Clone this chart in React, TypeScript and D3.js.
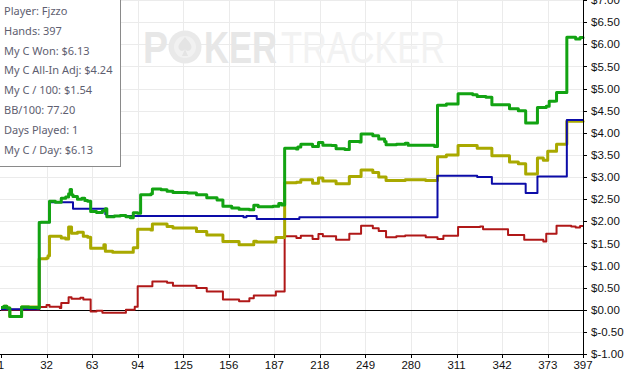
import React from "react";
import * as d3 from "d3";

const W = 630;
const H = 378;

const xTicks = [1, 32, 63, 94, 125, 156, 187, 218, 249, 280, 311, 342, 373, 397];
const yTicks = [-1, -0.5, 0, 0.5, 1, 1.5, 2, 2.5, 3, 3.5, 4, 4.5, 5, 5.5, 6, 6.5, 7];

const infoLines = [
  "Player: Fjzzo",
  "Hands: 397",
  "My C Won: $6.13",
  "My C All-In Adj: $4.24",
  "My C / 100: $1.54",
  "BB/100: 77.20",
  "Days Played: 1",
  "My C / Day: $6.13",
];

// Red series
const redHands = [1, 27, 32, 34, 41, 42, 47, 49, 55, 57, 62, 66, 70, 86, 92, 94, 104, 114, 118, 134, 141, 152, 163, 170, 173, 188, 194, 202, 205, 213, 217, 220, 229, 238, 246, 254, 258, 263, 270, 276, 290, 298, 302, 312, 327, 329, 346, 357, 370, 372, 379, 389, 392, 395, 397];
const redValues = [0.0, 0.06, 0.11, 0.07, 0.04, 0.15, 0.28, 0.25, 0.27, 0.23, -0.04, -0.02, -0.07, 0.0, 0.07, 0.53, 0.64, 0.61, 0.54, 0.49, 0.41, 0.23, 0.19, 0.26, 0.32, 0.41, 1.66, 1.62, 1.67, 1.6, 1.71, 1.66, 1.58, 1.72, 1.9, 1.84, 1.78, 1.64, 1.66, 1.68, 1.64, 1.6, 1.67, 1.87, 1.88, 1.82, 1.69, 1.58, 1.54, 1.72, 1.9, 1.88, 1.86, 1.89, 1.89];

// Olive (all-in adjusted) series
const yellowHands = [1, 3, 5, 7, 15, 26, 27, 32, 33, 34, 42, 45, 47, 49, 53, 57, 60, 62, 71, 72, 77, 86, 91, 94, 103, 104, 114, 118, 134, 141, 152, 163, 173, 175, 188, 194, 202, 205, 213, 217, 220, 229, 238, 246, 254, 258, 263, 270, 276, 290, 298, 304, 312, 325, 335, 347, 353, 358, 366, 370, 373, 379, 386, 397];
const yellowValues = [0.05, 0.08, 0.04, -0.15, 0.06, 0.04, 1.15, 1.17, 1.22, 1.66, 1.62, 1.6, 1.87, 1.73, 1.75, 1.66, 1.64, 1.39, 1.47, 1.32, 1.3, 1.3, 1.4, 1.82, 1.8, 1.94, 1.88, 1.85, 1.77, 1.69, 1.54, 1.47, 1.55, 1.53, 1.63, 2.87, 2.88, 2.94, 2.86, 2.98, 2.91, 2.85, 3.01, 3.16, 3.1, 3.0, 2.92, 2.92, 2.94, 2.92, 3.46, 3.5, 3.71, 3.65, 3.48, 3.34, 3.3, 3.07, 3.43, 3.38, 3.58, 3.74, 4.26, 4.24];

// Blue series
const blueHands = [1, 27, 34, 50, 72, 73, 166, 168, 175, 204, 298, 325, 335, 358, 366, 386, 397];
const blueValues = [0.01, 1.98, 2.43, 2.28, 2.16, 2.12, 2.09, 2.12, 2.05, 2.09, 3.03, 3.0, 2.85, 2.64, 3.01, 4.29, 4.27];

// Green (won) series
const greenHands = [1, 3, 5, 7, 15, 20, 26, 27, 28, 34, 38, 42, 45, 47, 48, 49, 50, 53, 56, 58, 60, 62, 66, 70, 72, 73, 78, 82, 86, 89, 91, 94, 96, 103, 104, 110, 114, 118, 128, 134, 141, 148, 152, 158, 163, 170, 173, 176, 186, 190, 192, 194, 202, 203, 205, 213, 217, 220, 226, 229, 235, 238, 245, 246, 254, 258, 262, 263, 270, 276, 278, 290, 296, 298, 304, 312, 322, 325, 331, 335, 347, 353, 358, 366, 372, 374, 378, 379, 386, 392, 395, 397];
const greenValues = [0.05, 0.08, 0.04, -0.15, 0.06, 0.05, 0.04, 1.97, 1.98, 2.45, 2.43, 2.52, 2.55, 2.62, 2.72, 2.6, 2.56, 2.5, 2.52, 2.47, 2.45, 2.22, 2.2, 2.24, 2.28, 2.1, 2.12, 2.13, 2.1, 2.08, 2.19, 2.18, 2.6, 2.62, 2.73, 2.71, 2.68, 2.65, 2.64, 2.6, 2.53, 2.48, 2.34, 2.3, 2.27, 2.26, 2.36, 2.33, 2.34, 2.4, 2.37, 3.65, 3.63, 3.68, 3.74, 3.69, 3.78, 3.72, 3.71, 3.64, 3.62, 3.8, 3.79, 3.97, 3.93, 3.86, 3.8, 3.73, 3.74, 3.76, 3.72, 3.72, 3.69, 4.62, 4.65, 4.88, 4.86, 4.82, 4.8, 4.63, 4.54, 4.5, 4.22, 4.57, 4.6, 4.71, 4.72, 4.91, 6.16, 6.12, 6.15, 6.13];

const series = [
  { hands: redHands, values: redValues, color: "#b01818", width: 2 },
  { hands: yellowHands, values: yellowValues, color: "#a9a900", width: 3 },
  { hands: blueHands, values: blueValues, color: "#0c0ca8", width: 2 },
  { hands: greenHands, values: greenValues, color: "#12a312", width: 3 },
];

export default function App() {
  const x = d3.scaleLinear().domain([1, 397]).range([1, 583]);
  const y = d3.scaleLinear().domain([-1, 7]).range([354, 0]);
  const line = d3
    .line<[number, number]>()
    .x((d) => x(d[0]))
    .y((d) => y(d[1]))
    .curve(d3.curveStepAfter);
  const axisFont = "'Liberation Sans', Arial, sans-serif";
  const fmt = (v: number) => "$" + v.toFixed(2);

  return (
    <svg
      width={W}
      height={H}
      style={{ position: "fixed", left: 0, top: 0, background: "#fff" }}
    >
      <rect x={0} y={0} width={W} height={H} fill="#fff" />
      {/* grid */}
      {yTicks.map((t) => (
        <line key={"gy" + t} x1={0} x2={x(397)} y1={Math.round(y(t)) + 0.5} y2={Math.round(y(t)) + 0.5} stroke="#ebebeb" strokeWidth={1} />
      ))}
      {xTicks.slice(1, -1).map((t) => (
        <line key={"gx" + t} x1={Math.round(x(t)) + 0.5} x2={Math.round(x(t)) + 0.5} y1={0} y2={y(-1)} stroke="#ebebeb" strokeWidth={1} />
      ))}
      {/* watermark */}
      <g fontFamily="'Liberation Sans', Arial, sans-serif" fontSize={44}>
        <text x={143} y={63} fill="#e7e7e7" fontWeight="bold" textLength={25} lengthAdjust="spacingAndGlyphs">P</text>
        <circle cx={185} cy={47} r={16.5} fill="#e9e9e9" />
        <circle cx={185} cy={47} r={11} fill="#f1f1f1" />
        <path d="M185,37 C181,42 177,45 179,49 C181,52 184,51 185,49 C186,51 189,52 191,49 C193,45 189,42 185,37 Z M185,49 L182,56 L188,56 Z" fill="#e4e4e4" />
        <text x={204} y={63} fill="#e7e7e7" fontWeight="bold" textLength={73} lengthAdjust="spacingAndGlyphs">KER</text>
        <text x={281} y={63} fill="#f2f2f2" textLength={164} lengthAdjust="spacingAndGlyphs">TRACKER</text>
      </g>
      {/* zero line */}
      <line x1={0} x2={x(397)} y1={Math.round(y(0)) + 0.5} y2={Math.round(y(0)) + 0.5} stroke="#000" strokeWidth={1} />
      {/* series */}
      {series.map((s, i) => (
        <path
          key={i}
          d={line(s.hands.map((h, j) => [h, s.values[j]] as [number, number])) || ""}
          fill="none"
          stroke={s.color}
          strokeWidth={s.width}
          strokeLinejoin="round"
        />
      ))}
      {/* right axis */}
      <line x1={Math.round(x(397)) + 0.5} x2={Math.round(x(397)) + 0.5} y1={0} y2={y(-1) + 4} stroke="#000" />
      {yTicks.map((t) => (
        <g key={"ty" + t}>
          <line x1={x(397)} x2={x(397) + 4} y1={Math.round(y(t)) + 0.5} y2={Math.round(y(t)) + 0.5} stroke="#000" />
          <text x={591} y={y(t)} dy="0.36em" fontFamily={axisFont} fontSize={11.5} fill="#111">
            {fmt(t)}
          </text>
        </g>
      ))}
      {/* bottom axis */}
      <line x1={0} x2={x(397) + 1} y1={Math.round(y(-1)) + 0.5} y2={Math.round(y(-1)) + 0.5} stroke="#000" />
      {xTicks.map((t) => (
        <g key={"tx" + t}>
          <line x1={Math.round(x(t)) + 0.5} x2={Math.round(x(t)) + 0.5} y1={y(-1)} y2={y(-1) + 4} stroke="#000" />
          <text x={x(t)} y={369} textAnchor="middle" fontFamily={axisFont} fontSize={11.5} fill="#111">
            {t}
          </text>
        </g>
      ))}
      {/* info box */}
      <rect x={-1.5} y={-1.5} width={122} height={168} fill="#fff" stroke="#8a8a8a" strokeWidth={1} />
      {infoLines.map((l, i) => (
        <text key={l} x={4} y={15 + i * 19.8} fontFamily="'Noto Sans', 'Open Sans', sans-serif" fontSize={11} fill="#5e5e70">
          {l}
        </text>
      ))}
    </svg>
  );
}
